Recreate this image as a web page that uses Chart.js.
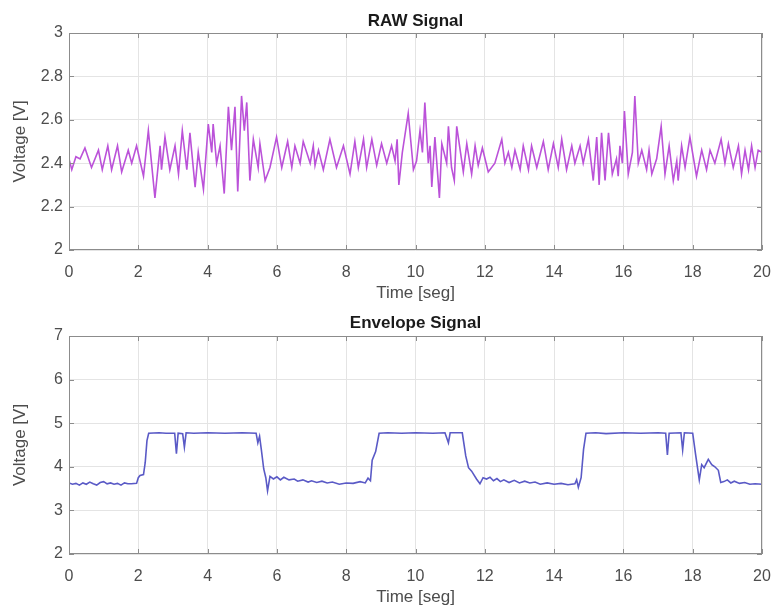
<!DOCTYPE html>
<html>
<head>
<meta charset="utf-8">
<script src="https://cdn.jsdelivr.net/npm/chart.js@4/dist/chart.umd.min.js"></script>
<style>
  html, body { margin: 0; padding: 0; background: #fff; }
  canvas { display: block; }
</style>
</head>
<body>
<canvas id="rawChart" width="771" height="306"></canvas>
<canvas id="envChart" width="771" height="304"></canvas>
<script>
// tick values
const xTicks = [0, 2, 4, 6, 8, 10, 12, 14, 16, 18, 20];
const rawYTicks = [2, 2.2, 2.4, 2.6, 2.8, 3];
const envYTicks = [2, 3, 4, 5, 6, 7];

// RAW signal (peaks and troughs)
const tRaw = [0.00,0.08,0.20,0.32,0.46,0.65,0.85,0.96,1.12,1.23,1.40,1.52,1.71,1.81,1.95,2.15,2.29,2.48,2.63,2.67,
  2.77,2.91,3.06,3.16,3.27,3.40,3.49,3.64,3.73,3.88,4.02,4.12,4.16,4.26,4.36,4.48,4.60,4.69,4.79,4.87,
  4.98,5.06,5.13,5.22,5.32,5.46,5.51,5.66,5.80,5.99,6.14,6.31,6.43,6.52,6.67,6.76,6.96,7.05,7.10,7.20,
  7.34,7.53,7.72,7.92,8.11,8.25,8.35,8.50,8.59,8.74,8.88,9.02,9.17,9.31,9.41,9.47,9.52,9.62,9.79,9.94,
  10.03,10.13,10.20,10.27,10.37,10.42,10.47,10.56,10.69,10.76,10.90,10.95,11.04,11.12,11.19,11.38,11.48,11.62,11.72,11.81,
  11.93,12.10,12.29,12.49,12.58,12.68,12.78,12.87,13.02,13.11,13.26,13.35,13.50,13.69,13.83,13.98,14.12,14.22,14.36,14.51,
  14.60,14.75,14.84,14.99,15.13,15.23,15.30,15.37,15.47,15.57,15.68,15.80,15.85,15.90,15.97,16.03,16.14,16.26,16.33,16.43,
  16.53,16.67,16.74,16.82,16.96,17.09,17.20,17.32,17.44,17.54,17.58,17.68,17.78,17.92,18.11,18.26,18.40,18.50,18.64,18.82,
  18.93,19.03,19.17,19.32,19.41,19.51,19.61,19.70,19.80,19.89,20.00];
const vRaw = [2.42,2.37,2.43,2.42,2.47,2.38,2.46,2.37,2.48,2.37,2.48,2.36,2.46,2.40,2.48,2.34,2.55,2.24,2.48,2.37,
  2.52,2.37,2.48,2.35,2.55,2.37,2.54,2.29,2.45,2.28,2.58,2.45,2.58,2.40,2.48,2.26,2.66,2.46,2.66,2.27,
  2.71,2.55,2.68,2.32,2.51,2.38,2.49,2.32,2.38,2.52,2.38,2.50,2.38,2.48,2.40,2.50,2.40,2.48,2.39,2.46,
  2.37,2.51,2.38,2.48,2.35,2.50,2.38,2.51,2.38,2.51,2.39,2.49,2.40,2.48,2.41,2.51,2.30,2.45,2.63,2.37,
  2.41,2.55,2.45,2.68,2.40,2.48,2.29,2.52,2.24,2.49,2.40,2.57,2.38,2.32,2.57,2.36,2.49,2.35,2.48,2.39,
  2.47,2.36,2.40,2.51,2.40,2.45,2.38,2.46,2.37,2.48,2.37,2.48,2.38,2.50,2.37,2.49,2.38,2.51,2.37,2.48,
  2.40,2.48,2.40,2.51,2.32,2.52,2.30,2.54,2.32,2.54,2.35,2.42,2.34,2.48,2.40,2.64,2.35,2.45,2.71,2.40,
  2.46,2.37,2.46,2.35,2.42,2.57,2.35,2.48,2.32,2.41,2.32,2.48,2.38,2.52,2.34,2.46,2.37,2.46,2.40,2.51,
  2.40,2.49,2.38,2.48,2.35,2.46,2.37,2.48,2.38,2.46,2.45];

// Envelope signal
const tEnv = [0.00,0.10,0.20,0.30,0.40,0.50,0.60,0.70,0.80,0.90,1.00,1.10,1.20,1.30,1.40,1.50,1.60,1.70,1.80,1.95,
  2.00,2.05,2.15,2.20,2.25,2.30,2.60,2.80,3.05,3.10,3.15,3.28,3.33,3.38,3.60,4.00,4.50,5.00,5.40,5.45,
  5.50,5.55,5.62,5.68,5.73,5.80,5.90,6.00,6.10,6.20,6.35,6.50,6.60,6.75,6.90,7.00,7.15,7.30,7.45,7.60,
  7.80,8.00,8.20,8.40,8.55,8.63,8.70,8.75,8.85,8.95,9.20,9.60,10.00,10.50,10.85,10.95,11.00,11.35,11.45,11.53,
  11.62,11.76,11.86,11.95,12.05,12.15,12.25,12.35,12.45,12.55,12.70,12.85,13.00,13.15,13.30,13.45,13.60,13.80,14.00,14.20,
  14.40,14.60,14.65,14.70,14.78,14.85,14.92,15.20,15.50,16.00,16.50,17.00,17.22,17.27,17.32,17.66,17.71,17.76,18.00,18.08,
  18.19,18.26,18.33,18.45,18.55,18.64,18.74,18.81,18.90,19.00,19.10,19.20,19.35,19.50,19.65,19.80,20.00];
const vEnv = [3.63,3.60,3.62,3.58,3.63,3.60,3.65,3.61,3.58,3.64,3.66,3.61,3.63,3.60,3.62,3.58,3.63,3.61,3.61,3.62,
  3.75,3.80,3.82,4.10,4.60,4.77,4.78,4.77,4.77,4.30,4.77,4.76,4.45,4.78,4.77,4.78,4.77,4.78,4.77,4.55,
  4.70,4.40,3.95,3.75,3.45,3.78,3.72,3.77,3.70,3.76,3.70,3.72,3.67,3.70,3.65,3.68,3.64,3.67,3.63,3.65,
  3.60,3.63,3.62,3.66,3.63,3.74,3.68,4.15,4.35,4.77,4.78,4.77,4.78,4.77,4.78,4.55,4.78,4.78,4.25,3.98,
  3.90,3.72,3.61,3.75,3.72,3.76,3.68,3.73,3.66,3.70,3.64,3.69,3.63,3.67,3.63,3.65,3.60,3.63,3.60,3.62,
  3.59,3.61,3.70,3.53,3.75,4.40,4.77,4.78,4.76,4.78,4.77,4.78,4.77,4.27,4.77,4.78,4.39,4.78,4.77,4.30,
  3.70,4.05,3.98,4.17,4.05,4.00,3.92,3.64,3.66,3.70,3.63,3.67,3.62,3.64,3.60,3.61,3.60];

const FONT = "'Liberation Sans', Arial, sans-serif";

// box around the plot area with small inward ticks, like the original
const boxPlugin = {
  id: 'box',
  afterDraw(chart) {
    const { ctx, chartArea: a, scales } = chart;
    ctx.save();
    ctx.strokeStyle = '#8c8c8c';
    ctx.lineWidth = 1;
    ctx.strokeRect(a.left + 0.5, a.top + 0.5, a.right - a.left - 1, a.bottom - a.top - 1);
    ctx.beginPath();
    scales.x.ticks.forEach(tk => {
      const px = Math.round(scales.x.getPixelForValue(tk.value)) + 0.5;
      ctx.moveTo(px, a.bottom); ctx.lineTo(px, a.bottom - 5);
      ctx.moveTo(px, a.top); ctx.lineTo(px, a.top + 5);
    });
    scales.y.ticks.forEach(tk => {
      const py = Math.round(scales.y.getPixelForValue(tk.value)) + 0.5;
      ctx.moveTo(a.left, py); ctx.lineTo(a.left + 5, py);
      ctx.moveTo(a.right, py); ctx.lineTo(a.right - 5, py);
    });
    ctx.stroke();
    ctx.restore();
  }
};

function makeChart(id, title, t, v, color, yTicks, areaTop, xAxisHeight, xTitlePad, titleTop) {
  const ctx = document.getElementById(id).getContext('2d');
  return new Chart(ctx, {
    type: 'line',
    data: {
      datasets: [{
        data: t.map((x, i) => ({ x: x, y: v[i] })),
        borderColor: color,
        borderWidth: 1.6,
        pointRadius: 0,
        tension: 0
      }]
    },
    options: {
      responsive: false,
      animation: false,
      layout: { padding: { left: 0, right: 9, top: 0, bottom: 0 } },
      plugins: {
        legend: { display: false },
        tooltip: { enabled: false },
        title: {
          display: true,
          text: title,
          fullSize: false,
          color: '#1a1a1a',
          font: { family: FONT, size: 17, weight: 'bold' },
          padding: { top: titleTop, bottom: areaTop - titleTop - 20.4 }
        }
      },
      scales: {
        x: {
          type: 'linear',
          min: xTicks[0],
          max: xTicks[xTicks.length - 1],
          afterBuildTicks: s => { s.ticks = xTicks.map(val => ({ value: val })); },
          afterFit: s => { s.height = xAxisHeight; s.paddingLeft = 0; s.paddingRight = 0; },
          grid: { color: '#e4e4e4', drawTicks: false },
          border: { display: false },
          ticks: { color: '#4d4d4d', padding: 13, font: { family: FONT, size: 16 } },
          title: {
            display: true, text: 'Time [seg]', color: '#4d4d4d',
            font: { family: FONT, size: 17 }, padding: { top: 0, bottom: xTitlePad }
          }
        },
        y: {
          min: yTicks[0],
          max: yTicks[yTicks.length - 1],
          afterBuildTicks: s => { s.ticks = yTicks.map(val => ({ value: val })); },
          afterFit: s => { s.width = 69; },
          grid: { color: '#e4e4e4', drawTicks: false },
          border: { display: false },
          ticks: {
            color: '#4d4d4d', padding: 6, font: { family: FONT, size: 16 },
            callback: val => String(Math.round(val * 10) / 10)
          },
          title: {
            display: true, text: 'Voltage [V]', color: '#4d4d4d',
            font: { family: FONT, size: 17 }, padding: { top: 10, bottom: 0 }
          }
        }
      }
    },
    plugins: [boxPlugin]
  });
}

makeChart('rawChart', 'RAW Signal', tRaw, vRaw, '#bb52d9', rawYTicks, 33, 56, 2, 11);
makeChart('envChart', 'Envelope Signal', tEnv, vEnv, '#5a5ac6', envYTicks, 30, 56, 2, 7);
</script>
</body>
</html>
